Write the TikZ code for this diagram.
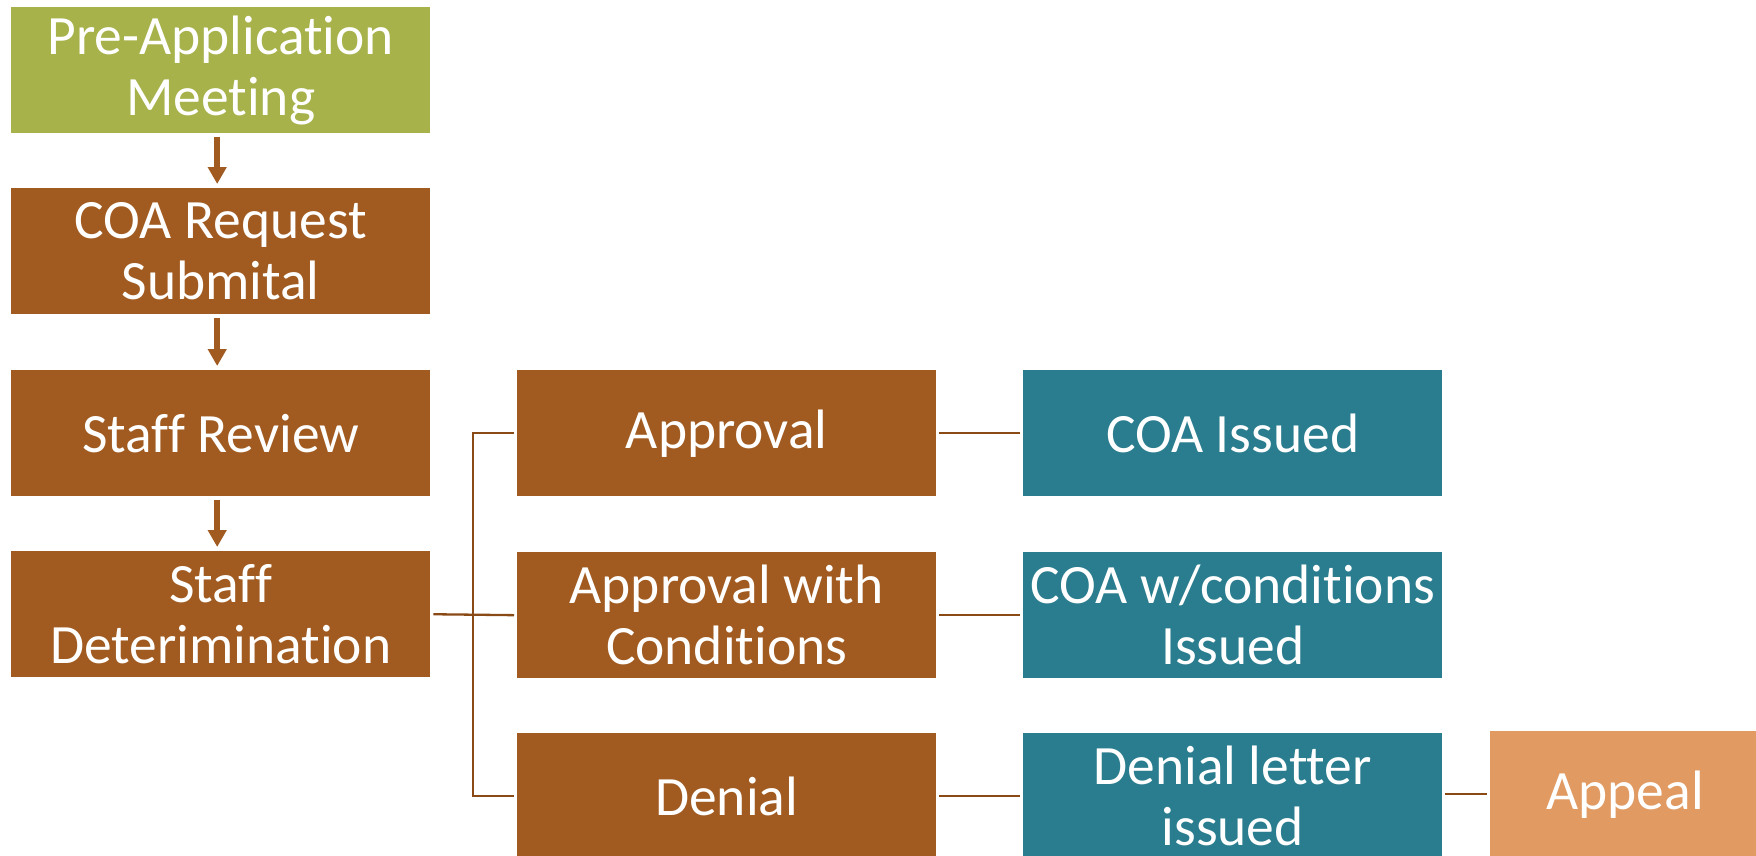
\documentclass[tikz,border=0pt]{standalone}
\usepackage{fontspec}
\setmainfont{Carlito}[Ligatures=NoCommon]
\usetikzlibrary{arrows.meta}
\definecolor{cgreen}{RGB}{167,178,74}
\definecolor{cbrown}{RGB}{161,91,33}
\definecolor{cline}{RGB}{138,74,22}
\definecolor{cteal}{RGB}{42,125,142}
\definecolor{corange}{RGB}{224,154,98}
\tikzset{
  box/.style={rectangle, inner sep=0pt, anchor=north west, minimum width=419pt, minimum height=126pt,
    text=white, align=center, font=\fontsize{55.5}{61}\selectfont},
  greenbox/.style={box, fill=cgreen},
  brownbox/.style={box, fill=cbrown},
  tealbox/.style={box, fill=cteal},
  orangebox/.style={box, fill=corange, minimum width=270pt},
  flowarrow/.style={draw=cbrown, line width=6pt, -{Triangle[width=18pt,length=17pt]}, shorten <=4pt, shorten >=4pt},
  conn/.style={draw=cline, line width=2.3pt, shorten <=3pt, shorten >=3pt}
}
\begin{document}
\begin{tikzpicture}[x=1pt,y=-1pt]
\useasboundingbox (0,0) rectangle (1756,855);
\node[greenbox] (preapp) at (11,7) {Pre-Application\\Meeting};
\node[brownbox] (coareq) at (11,188) {COA Request\\Submital};
\node[brownbox] (review) at (11,370) {Staff Review};
\node[brownbox] (determ) at (11,551) {Staff\\Deterimination};
\node[brownbox] (approval) at (517,370) {Approval};
\node[brownbox] (approvalc) at (517,552) {Approval with\\Conditions};
\node[brownbox] (denial) at (517,733) {Denial};
\node[tealbox] (coaiss) at (1023,370) {COA Issued};
\node[tealbox] (coacond) at (1023,552) {COA w/conditions\\Issued};
\node[tealbox] (denletter) at (1023,733) {Denial letter\\issued};
\node[orangebox] (appeal) at (1490,731) {Appeal};
\draw[flowarrow] ([xshift=-3.5pt]preapp.south) -- ([xshift=-3.5pt]coareq.north);
\draw[flowarrow] ([xshift=-3.5pt]coareq.south) -- ([xshift=-3.5pt]review.north);
\draw[flowarrow] ([xshift=-3.5pt]review.south) -- ([xshift=-3.5pt]determ.north);
\draw[conn] (determ.east) -- (approvalc.west);
\draw[conn] (approval.west) -- ++(-44,0) |- (denial.west);
\draw[conn] (approval.east) -- (coaiss.west);
\draw[conn] (approvalc.east) -- (coacond.west);
\draw[conn] (denial.east) -- (denletter.west);
\draw[conn] (appeal.west -| denletter.east) -- (appeal.west);
\end{tikzpicture}
\end{document}
